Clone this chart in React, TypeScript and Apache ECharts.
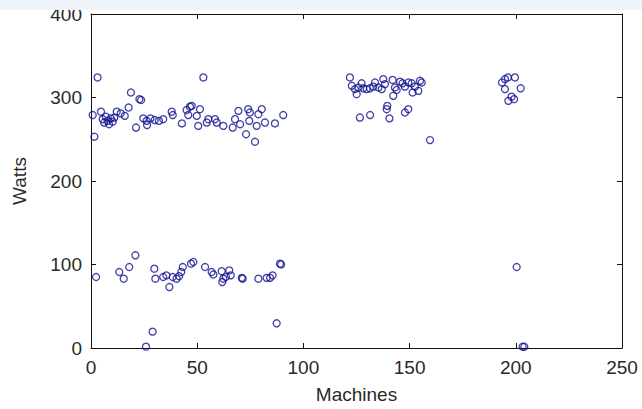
import React, { useEffect, useRef } from "react";
import * as echarts from "echarts";

// Machine index vs power draw (Watts)
const highGroupA: [number, number][] = [
  [0.8, 279], [1.6, 253], [3.1, 324], [4.7, 283], [5.5, 274], [6.2, 270], [7, 277], [7.8, 272],
  [8.5, 268], [9.3, 275], [10.2, 271], [11, 276], [12.1, 283], [14, 281], [15.9, 278], [17.7, 288],
  [18.8, 306], [21.2, 264], [22.8, 298], [23.6, 297], [24.6, 275], [26.2, 272], [26.4, 267], [28, 275],
  [30, 273], [32, 272], [34, 274], [38, 283], [38.5, 279], [42.8, 269], [45, 285], [45.8, 279],
  [46.6, 289], [47.4, 290], [49.8, 278], [50.5, 266], [51.3, 286], [52.9, 324], [54.5, 270], [55.2, 274],
  [58.4, 274], [59.2, 270], [62.3, 266], [66.7, 264], [67.8, 274], [69.4, 284], [70.2, 268], [73, 256],
  [74, 286], [74.8, 282], [74.5, 272], [77.2, 247], [78, 266], [78.8, 280], [80.4, 286], [81.9, 270],
  [86.6, 269], [90.5, 279],
];

const lowGroupA: [number, number][] = [
  [2.4, 85], [13.3, 91], [15.4, 83], [18, 97], [20.9, 111], [25.9, 1.6], [29, 19.6], [29.8, 95],
  [30.3, 83], [34, 85], [35.5, 87], [36.9, 73], [38.5, 85], [40.3, 83], [41.5, 86], [42.5, 91],
  [43.2, 97], [47.1, 101], [48.2, 103], [53.7, 97], [56.8, 91], [57.6, 88], [61.5, 92], [62.3, 83],
  [61.8, 79], [63.5, 85], [65.1, 93], [65.8, 87], [71, 84], [71.4, 83], [78.8, 83], [82.7, 84],
  [84.3, 84], [85.5, 87], [87.4, 29.6], [89, 101], [89.5, 100],
];

const highGroupB: [number, number][] = [
  [121.9, 324], [122.8, 314], [124.3, 310], [125.1, 304], [125.9, 312], [126.6, 276], [127.4, 317],
  [128.2, 311], [129.8, 310], [131.3, 311], [131.4, 279], [132.9, 313], [133.7, 318], [135.3, 312],
  [136.9, 310], [137.6, 322], [138.4, 316], [139.2, 286], [139.5, 290], [140.5, 275], [142, 321],
  [142.3, 302], [143.1, 312], [143.9, 309], [145.5, 319], [146.7, 317], [147.8, 313], [147.8, 282],
  [149.4, 286], [149.4, 318], [151, 317], [151.4, 306], [152.5, 313], [154.1, 308], [154.9, 320],
  [155.7, 318], [159.6, 249],
];

const highGroupC: [number, number][] = [
  [193.5, 318], [194.9, 322], [196.3, 324], [199.6, 324], [194.9, 310], [202.3, 311],
  [196.5, 296], [198, 301], [199.2, 298],
];

const lowGroupC: [number, number][] = [
  [200.4, 97], [203.2, 1.5], [204, 1.5],
];

const xTicks = { min: 0, max: 250, interval: 50 };
const yTicks = { min: 0, max: 400, interval: 100 };

const FONT = "Liberation Sans";
const MARK = "#10108f";

export default function App() {
  const ref = useRef<HTMLDivElement>(null);

  useEffect(() => {
    if (!ref.current) return;
    const chart = echarts.init(ref.current, undefined, { renderer: "svg" });
    const axisLine = { show: true, onZero: false, lineStyle: { color: "#111", width: 1 } };
    const axisTick = { show: true, inside: true, length: 5, lineStyle: { color: "#111", width: 1 } };
    const label = { color: "#2a2a2a", fontFamily: FONT, fontSize: 19 };
    const allPoints = [...highGroupA, ...lowGroupA, ...highGroupB, ...highGroupC, ...lowGroupC];

    chart.setOption({
      animation: false,
      backgroundColor: "#ffffff",
      grid: { left: 91, right: 20, top: 14, bottom: 61, containLabel: false },
      xAxis: [
        {
          type: "value",
          position: "bottom",
          ...xTicks,
          name: "Machines",
          nameLocation: "middle",
          nameGap: 37,
          nameTextStyle: { ...label },
          axisLine,
          axisTick,
          axisLabel: { ...label, margin: 10 },
          splitLine: { show: false },
        },
        {
          type: "value",
          position: "top",
          ...xTicks,
          axisLine,
          axisTick,
          axisLabel: { show: false },
          splitLine: { show: false },
        },
      ],
      yAxis: [
        {
          type: "value",
          position: "left",
          ...yTicks,
          name: "Watts",
          nameLocation: "middle",
          nameGap: 62,
          nameTextStyle: { ...label },
          axisLine,
          axisTick,
          axisLabel: { ...label, margin: 9 },
          splitLine: { show: false },
        },
        {
          type: "value",
          position: "right",
          ...yTicks,
          axisLine,
          axisTick,
          axisLabel: { show: false },
          splitLine: { show: false },
        },
      ],
      series: [
        {
          type: "scatter",
          xAxisIndex: 0,
          yAxisIndex: 0,
          data: allPoints,
          symbol: "circle",
          symbolSize: 7,
          clip: false,
          itemStyle: { color: "rgba(0,0,0,0)", borderColor: MARK, borderWidth: 1.3 },
        },
      ],
      graphic: [
        {
          type: "rect",
          left: 0,
          top: 0,
          z: 100,
          shape: { width: 642, height: 10 },
          style: { fill: "#eef4fa" },
        },
      ],
    });
    return () => chart.dispose();
  }, []);

  return (
    <div
      ref={ref}
      style={{ position: "absolute", left: 0, top: 0, width: 642, height: 409 }}
    />
  );
}
